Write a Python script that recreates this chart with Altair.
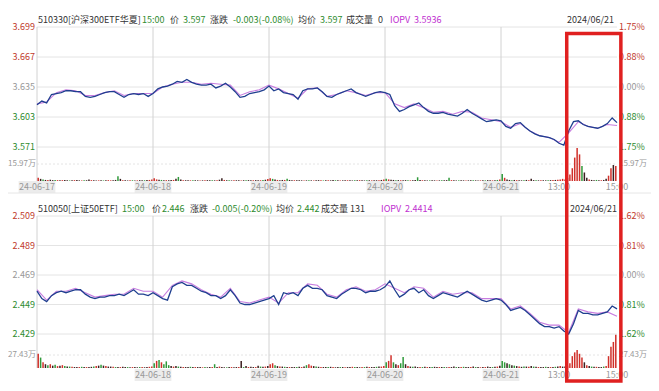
import altair as alt
import pandas as pd

# ---------------- data ----------------
TOP_X_TICKS = [0, 240, 480, 720, 960, 1080, 1200]
TOP_X_LABELS = ["24-06-17", "24-06-18", "24-06-19", "24-06-20", "24-06-21", "13:00", "15:00"]
BOT_X_TICKS = [240, 480, 720, 960, 1080, 1200]
BOT_X_LABELS = ["24-06-18", "24-06-19", "24-06-20", "24-06-21", "13:00", "15:00"]
DAY_STARTS = [0, 240, 480, 720, 960]

TOP_PRICE_TICKS = [3.699, 3.667, 3.635, 3.603, 3.571]
TOP_PCT_LABELS = ["1.75%", "0.88%", "0.00%", "0.88%", "1.75%"]
TICK_DIR = ["up", "up", "flat", "down", "down"]
TOP_VOL_MARK = 15.97

BOT_PRICE_TICKS = [2.509, 2.489, 2.469, 2.449, 2.429]
BOT_PCT_LABELS = ["1.62%", "0.81%", "0.00%", "0.81%", "1.62%"]
BOT_VOL_MARK = 27.43

# price every 10 minutes (5 days x 240 min)
TOP_PRICE = [
    3.616, 3.620, 3.618, 3.627, 3.628, 3.629, 3.631, 3.631, 3.630, 3.630,
    3.625, 3.624, 3.625, 3.627, 3.629, 3.630, 3.630, 3.627, 3.624, 3.627,
    3.628, 3.627, 3.628, 3.625, 3.628, 3.633, 3.635, 3.636, 3.638, 3.641,
    3.640, 3.643, 3.640, 3.638, 3.637, 3.637, 3.638, 3.634, 3.636, 3.639,
    3.635, 3.630, 3.624, 3.625, 3.628, 3.629, 3.630, 3.632, 3.636, 3.631,
    3.633, 3.629, 3.628, 3.627, 3.622, 3.631, 3.633, 3.633, 3.634, 3.630,
    3.625, 3.624, 3.627, 3.629, 3.631, 3.633, 3.629, 3.627, 3.625, 3.627,
    3.629, 3.630, 3.629, 3.627, 3.615, 3.609, 3.611, 3.614, 3.616, 3.618,
    3.613, 3.609, 3.607, 3.607, 3.608, 3.606, 3.605, 3.604, 3.607, 3.611,
    3.607, 3.604, 3.601, 3.598, 3.599, 3.600, 3.599, 3.593, 3.591, 3.596,
    3.597, 3.592, 3.588, 3.585, 3.583, 3.582, 3.581, 3.579, 3.575, 3.573,
    3.588, 3.598, 3.599, 3.595, 3.593, 3.592, 3.591, 3.593, 3.596, 3.602,
    3.597,
]
# IOPV every 20 minutes
TOP_IOPV = [
    3.617, 3.619, 3.629, 3.632, 3.631, 3.626, 3.626, 3.629, 3.631, 3.626,
    3.628, 3.628, 3.628, 3.635, 3.638, 3.640, 3.640, 3.638, 3.639, 3.638,
    3.637, 3.626, 3.630, 3.632, 3.637, 3.633, 3.628, 3.623, 3.633, 3.634,
    3.625, 3.627, 3.631, 3.629, 3.626, 3.629, 3.629, 3.617, 3.613, 3.617,
    3.613, 3.608, 3.609, 3.606, 3.609, 3.608, 3.602, 3.600, 3.598, 3.592,
    3.596, 3.588, 3.583, 3.581, 3.576, 3.586, 3.598, 3.593, 3.591, 3.595,
    3.594,
]
# volume (万) every 5 minutes, one list per day
TOP_VOL = [
    [3, 2, 1.5, 1, 1, 1.2, 0.8, 1, 0.8, 0.6, 0.8, 1, 0.6, 0.5, 0.7, 0.8, 1, 0.6, 0.5, 0.6,
     0.7, 1.5, 0.8, 0.6, 0.5, 0.6, 0.7, 0.5, 0.6, 0.8, 0.6, 0.7, 1, 4.5, 2, 0.8, 0.6, 0.5, 0.6, 0.7,
     0.5, 0.6, 0.8, 0.6, 0.7, 0.9, 1, 1.5],
    [2.5, 1.5, 1.2, 1, 0.8, 0.8, 0.7, 1, 1, 2, 3.8, 1.5, 0.8, 0.7, 0.6, 0.6, 0.8, 0.7, 0.6, 0.5,
     0.6, 0.7, 0.8, 0.6, 0.7, 0.6, 0.8, 1.2, 2.5, 1, 0.7, 0.6, 0.5, 0.6, 0.7, 0.6, 0.5, 0.7, 0.6, 0.8,
     0.6, 0.7, 0.8, 0.6, 0.7, 1, 1.2, 1.8],
    [2.5, 2, 1.5, 1, 0.8, 1, 1, 2, 1, 0.8, 0.7, 0.6, 0.8, 0.6, 0.5, 0.6, 0.7, 0.6, 0.5, 0.7,
     0.8, 0.6, 0.5, 0.6, 0.7, 0.6, 1, 0.7, 0.6, 0.5, 0.6, 0.8, 0.7, 0.6, 0.5, 0.6, 0.7, 0.8, 0.6, 0.5,
     0.6, 0.7, 0.6, 0.8, 0.7, 0.8, 1, 1.5],
    [2, 1.5, 1.2, 1, 0.8, 0.8, 0.7, 0.6, 0.8, 0.7, 0.6, 0.8, 1, 3.5, 1, 0.7, 0.6, 0.5, 0.6, 0.7,
     0.6, 0.5, 0.6, 0.7, 0.6, 0.8, 3, 0.8, 0.6, 0.5, 0.6, 0.7, 0.6, 0.5, 0.6, 0.7, 0.8, 0.6, 0.5, 0.6,
     0.7, 0.6, 0.8, 0.7, 0.6, 0.8, 1, 1.5],
    [6.5, 3, 1.5, 1, 0.8, 1, 0.8, 0.7, 0.6, 0.8, 1, 0.7, 2, 0.8, 0.7, 0.6, 0.8, 0.7, 0.6, 0.7,
     0.8, 0.9, 1, 1.2, 1.5, 2, 1.5, 3, 6, 12, 22, 31, 25, 14, 8, 3, 1.5, 1, 0.8, 1,
     0.8, 0.7, 1, 2, 5, 12, 15, 14],
]
# bar colour class per 5-minute bar: r = up, g = down, k = flat
TOP_VOL_DIR = [
    "rkgkrkkgrkrk" "kgkrkkrgkkrk" "krkgkrrkkgkr" "kkrgkrkkgkrr",
    "rrkgkrkkrkgk" "rkkrgkkrkrkk" "gkrkkrkgkrkk" "rkgkkrkkrgkr",
    "rgkrkkrgkkrk" "kkrkgkrkkrgk" "rkkgkrkkrkkg" "krkkgkrkkrkr",
    "grkkgkrkkgrk" "kgkrkkgkkrkg" "kkgrkkgkkrkk" "gkkrkgkkrkgr",
    "grkkgkrkkgkr" "kkgkrkkgkrkr" "rrrkrrrrrgkk" "rkkgkrkkrrkr",
]

BOT_PRICE = [
    2.458, 2.453, 2.451, 2.455, 2.457, 2.458, 2.457, 2.458, 2.459, 2.459,
    2.456, 2.454, 2.453, 2.454, 2.454, 2.455, 2.455, 2.456, 2.455, 2.457,
    2.459, 2.456, 2.456, 2.455, 2.457, 2.455, 2.453, 2.452, 2.461, 2.463,
    2.464, 2.462, 2.462, 2.460, 2.458, 2.457, 2.455, 2.455, 2.453, 2.455,
    2.459, 2.455, 2.450, 2.449, 2.449, 2.450, 2.451, 2.452, 2.453, 2.455,
    2.449, 2.457, 2.456, 2.457, 2.455, 2.460, 2.462, 2.460, 2.460, 2.459,
    2.455, 2.454, 2.453, 2.456, 2.458, 2.460, 2.460, 2.459, 2.457, 2.458,
    2.458, 2.459, 2.461, 2.465, 2.459, 2.454, 2.456, 2.459, 2.460, 2.457,
    2.459, 2.455, 2.453, 2.455, 2.457, 2.456, 2.455, 2.454, 2.456, 2.458,
    2.456, 2.454, 2.452, 2.451, 2.452, 2.453, 2.452, 2.449, 2.445, 2.446,
    2.447, 2.445, 2.442, 2.439, 2.436, 2.434, 2.434, 2.433, 2.434, 2.431,
    2.429, 2.436, 2.445, 2.443, 2.443, 2.442, 2.442, 2.443, 2.444, 2.448,
    2.446,
]
BOT_IOPV = [
    2.459, 2.452, 2.458, 2.458, 2.460, 2.457, 2.454, 2.455, 2.456, 2.456,
    2.460, 2.458, 2.458, 2.454, 2.462, 2.465, 2.463, 2.459, 2.456, 2.454,
    2.460, 2.451, 2.450, 2.452, 2.454, 2.450, 2.457, 2.457, 2.463, 2.462,
    2.456, 2.454, 2.459, 2.461, 2.458, 2.459, 2.463, 2.460, 2.457, 2.461,
    2.460, 2.454, 2.458, 2.456, 2.457, 2.457, 2.453, 2.453, 2.453, 2.446,
    2.448, 2.443, 2.437, 2.435, 2.435, 2.430, 2.446, 2.444, 2.443, 2.444,
    2.441,
]
BOT_VOL = [
    [30, 22, 12, 8, 6, 8, 5, 7, 4, 5, 6, 4, 3, 3, 2.5, 2, 2, 2, 2.5, 2,
     2, 2, 2.5, 3, 4, 5, 7, 5, 4, 3, 3, 2.5, 2, 2, 2, 2.5, 2, 2, 1.5, 2,
     2, 1.5, 2, 2, 1.5, 2, 2.5, 3],
    [10, 15, 17, 12, 8, 14, 6, 4, 3, 4, 3, 2.5, 2, 2, 2, 2.5, 2, 2, 2, 2,
     1.5, 2, 1.5, 2, 2, 8, 2, 3, 2, 1.5, 1.5, 2, 2, 1.5, 2, 2, 15, 2, 4, 2,
     2.5, 2, 2, 5, 3, 2.5, 3, 4],
    [8, 10, 6, 4, 3, 3, 2.5, 2, 2, 2, 2, 2, 2.5, 2, 3, 6, 8, 5, 4, 3,
     2.5, 2, 2, 2, 2, 2.5, 2, 1.5, 2, 2, 2, 1.5, 2, 2, 2.5, 2, 2, 1.5, 2, 2,
     2.5, 2, 2, 2, 2.5, 3, 3, 4],
    [12, 15, 27, 12, 8, 6, 10, 23, 8, 4, 3, 2.5, 3, 2, 2, 2, 2.5, 2, 2, 2,
     2.5, 2, 2, 2, 2, 1.5, 2, 2, 3, 2, 2, 2, 2.5, 2, 2, 2, 3, 2, 2, 1.5,
     2, 2, 3, 2, 2, 2.5, 3, 5],
    [15, 12, 10, 8, 6, 5, 4, 3, 2.5, 3, 3, 2.5, 4, 3, 2.5, 2, 2, 2, 2.5, 2,
     2, 2, 2.5, 3, 4, 3, 3, 5, 10, 25, 33, 38, 30, 22, 12, 6, 4, 3, 2.5, 2.5,
     2, 2, 3, 4, 25, 45, 55, 70],
]
BOT_VOL_DIR = [
    "rgrkgrkgrkrg" "kgrkkrgkrkkg" "rkgkrkkrgkrk" "kgkrkkgrkkrr",
    "grgrgggkrkgk" "rkkgkrkkrgkk" "rgkrkkgkrkkr" "kgkrkkrkgkrk",
    "rrgkrkgkrkkg" "krkgrrkgkrkk" "gkrkkgkrkkrg" "kkrgkrkkgkrr",
    "grrgkrggkrkg" "kkrgkrkgkkrk" "gkrkkgkrgkkr" "kgkrkrkkgkrk",
    "ggkgkgkrkgkr" "kgkrkkgkrkgk" "rkkrrrrrrrkr" "kgkrkkgrrrrr",
]

TOP_TITLE = [("510330[沪深300ETF华夏]", "dark"), ("15:00", "green"), ("价", "dark"),
             ("3.597", "green"), ("涨跌", "dark"), ("-0.003(-0.08%)", "green"),
             ("均价", "dark"), ("3.597", "green"), ("成交量", "dark"), ("0", "dark"),
             ("IOPV", "iopv"), ("3.5936", "iopv")]
BOT_TITLE = [("510050[上证50ETF]", "dark"), ("15:00", "green"), ("价", "dark"),
             ("2.446", "green"), ("涨跌", "dark"), ("-0.005(-0.20%)", "green"),
             ("均价", "dark"), ("2.442", "green"), ("成交量", "dark"), ("131", "dark"),
             ("IOPV", "iopv"), ("2.4414", "iopv")]
DATE_TEXT = "2024/06/21"
HIGHLIGHT = [1096, 1208]   # minute index span of the red box

# ---------------- styling / layout ----------------
FONT = "Noto Sans CJK SC"
FS = 9
W, H = 643, 375
X0, X1 = 29, 609
RED, GREEN, GRAY, DARK, IOPV_C = "#c0392b", "#2e8b2e", "#999999", "#333333", "#c030d0"
PRICE_C, IOPV_LINE = "#1f3f8f", "#c77ddf"
TEXT_COLORS = {"dark": DARK, "green": GREEN, "iopv": IOPV_C}

XS = alt.Scale(domain=[0, 1200], range=[X0, X1], zero=False, nice=False)
DIR_SCALE = alt.Scale(domain=["up", "flat", "down"], range=[RED, GRAY, GREEN])
VOL_SCALE = alt.Scale(domain=["r", "g", "k"], range=["#d0302a", "#2f9a3a", "#3a1f1f"])
ONE = pd.DataFrame({"a": [0]})


def panel(price, iopv, vol, vdir, pticks, pcts, vmark, prange, vrange, xticks, xlabels,
          xlab_y, title, title_y, title_x):
    PS = alt.Scale(domain=[pticks[-1], pticks[0]], range=prange, zero=False, nice=False)
    VS = alt.Scale(domain=[0, vmark], range=vrange, zero=False, nice=False)
    price_df = pd.DataFrame({"t": [10 * i for i in range(len(price))], "p": price})
    iopv_df = pd.DataFrame({"t": [20 * i for i in range(len(iopv))], "p": iopv})
    vals = [v for day in vol for v in day]
    dirs = list("".join(vdir))
    vol_df = pd.DataFrame({"t": [5 * k + 2.5 for k in range(len(vals))], "v": vals, "c": dirs})
    tick_df = pd.DataFrame({"p": pticks, "pct": pcts, "d": TICK_DIR})
    grid_df = pd.DataFrame({"t": DAY_STARTS})
    xl_df = pd.DataFrame({"t": xticks, "lab": xlabels})

    layers = []
    layers.append(alt.Chart(tick_df).mark_rule(color="#e4e4e4", strokeWidth=1).encode(
        y=alt.Y("p:Q", scale=PS, axis=None), x=alt.value(X0), x2=alt.value(X1)))
    layers.append(alt.Chart(ONE).mark_rule(color="#e4e4e4", strokeWidth=1, strokeDash=[2, 2]).encode(
        y=alt.YDatum(vmark, scale=VS, axis=None), x=alt.value(X0), x2=alt.value(X1)))
    layers.append(alt.Chart(grid_df).mark_rule(color="#d2d2d2", strokeWidth=1).encode(
        x=alt.X("t:Q", scale=XS, axis=None),
        y=alt.YDatum(pticks[0], scale=PS, axis=None), y2=alt.value(vrange[0])))
    layers.append(alt.Chart(vol_df).mark_rule(strokeWidth=1.5).encode(
        x=alt.X("t:Q", scale=XS, axis=None),
        y=alt.Y("v:Q", scale=VS, axis=None), y2=alt.datum(0),
        color=alt.Color("c:N", scale=VOL_SCALE, legend=None)))
    layers.append(alt.Chart(iopv_df).mark_line(color=IOPV_LINE, strokeWidth=1.1).encode(
        x=alt.X("t:Q", scale=XS, axis=None), y=alt.Y("p:Q", scale=PS, axis=None)))
    layers.append(alt.Chart(price_df).mark_line(color=PRICE_C, strokeWidth=1.3).encode(
        x=alt.X("t:Q", scale=XS, axis=None), y=alt.Y("p:Q", scale=PS, axis=None)))
    # price labels left / percent labels right
    layers.append(alt.Chart(tick_df).mark_text(align="right", baseline="middle", font=FONT, fontSize=FS).encode(
        y=alt.Y("p:Q", scale=PS, axis=None), x=alt.value(X0 - 2),
        text=alt.Text("p:Q", format=".3f"),
        color=alt.Color("d:N", scale=DIR_SCALE, legend=None)))
    layers.append(alt.Chart(tick_df).mark_text(align="left", baseline="middle", font=FONT, fontSize=FS).encode(
        y=alt.Y("p:Q", scale=PS, axis=None), x=alt.value(X1 + 2), text="pct:N",
        color=alt.Color("d:N", scale=DIR_SCALE, legend=None)))
    for xv, al in [(X0 - 1, "right"), (X1 + 2, "left")]:
        layers.append(alt.Chart(ONE).mark_text(align=al, baseline="middle", font=FONT, fontSize=8, color=GRAY).encode(
            y=alt.YDatum(vmark, scale=VS, axis=None), x=alt.value(xv), text=alt.value(f"{vmark}万")))
    # date labels with a light grey background box
    layers.append(alt.Chart(xl_df).transform_filter("indexof(datum.lab, '-') > 0").transform_calculate(
        a="datum.t - 38", b="datum.t + 38").mark_rect(color="#ececec").encode(
        x=alt.X("a:Q", scale=XS, axis=None), x2="b:Q",
        y=alt.value(xlab_y - 6), y2=alt.value(xlab_y + 6)))
    layers.append(alt.Chart(xl_df).mark_text(baseline="middle", font=FONT, fontSize=FS, color=GRAY).encode(
        x=alt.X("t:Q", scale=XS, axis=None), y=alt.value(xlab_y), text="lab:N"))
    for (txt, col), xv in zip(title, title_x):
        layers.append(alt.Chart(ONE).mark_text(align="left", baseline="middle", font=FONT, fontSize=FS,
                                               color=TEXT_COLORS[col]).encode(
            x=alt.value(xv), y=alt.value(title_y), text=alt.value(txt)))
    layers.append(alt.Chart(ONE).mark_text(align="left", baseline="middle", font=FONT, fontSize=FS, color=DARK).encode(
        x=alt.value(title_x[-1]), y=alt.value(title_y), text=alt.value(DATE_TEXT)))
    return layers


top = panel(TOP_PRICE, TOP_IOPV, TOP_VOL, TOP_VOL_DIR, TOP_PRICE_TICKS, TOP_PCT_LABELS, TOP_VOL_MARK,
            [139, 19], [173, 156], TOP_X_TICKS, TOP_X_LABELS, 179, TOP_TITLE, 12,
            [30, 134, 162, 175, 202, 225, 290, 312, 338, 370, 382, 406, 559])
bot = panel(BOT_PRICE, BOT_IOPV, BOT_VOL, BOT_VOL_DIR, BOT_PRICE_TICKS, BOT_PCT_LABELS, BOT_VOL_MARK,
            [326, 208], [360, 347], BOT_X_TICKS, BOT_X_LABELS, 367, BOT_TITLE, 201,
            [30, 114, 144, 154, 182, 204, 268, 289, 313, 342, 373, 397, 562])

extra = [
    alt.Chart(ONE).mark_rule(color="#e6e6e6", strokeWidth=1).encode(
        x=alt.value(0), x2=alt.value(W), y=alt.value(185)),
    alt.Chart(ONE).mark_rect(filled=False, stroke="#e02020", strokeWidth=3.5).encode(
        x=alt.XDatum(HIGHLIGHT[0], scale=XS, axis=None), x2=alt.datum(HIGHLIGHT[1]),
        y=alt.value(25.5), y2=alt.value(H - 2)),
]

chart = alt.layer(*top, *bot, *extra).resolve_scale(y="independent", color="independent").properties(
    width=W, height=H, autosize=alt.AutoSizeParams(type="none"), padding=0,
    background="white").configure_view(stroke=None)

chart.save("out.html", embed_options={"renderer": "svg", "actions": False})
